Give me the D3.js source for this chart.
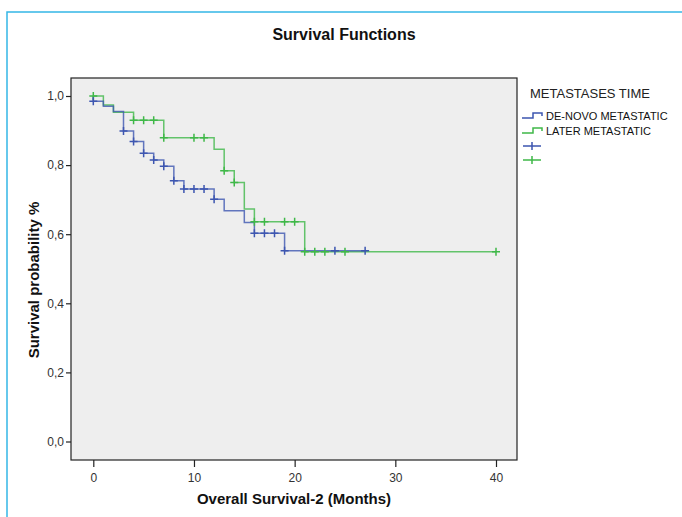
<!DOCTYPE html>
<html>
<head>
<meta charset="utf-8">
<script src="https://cdn.jsdelivr.net/npm/d3@7"></script>
<style>
  body { margin: 0; background: #fff; }
  svg text { font-family: "Liberation Sans", Arial, sans-serif; }
</style>
</head>
<body>
<div id="chart"></div>
<script>
// step times (months) and survival after each event
var deNovoTimes = [0, 1, 2, 3, 4, 5, 6, 7, 8, 9, 12, 13, 15, 16, 19];
var deNovoSurv = [0.985, 0.970, 0.955, 0.899, 0.868, 0.834, 0.815, 0.797, 0.755, 0.731, 0.701, 0.668, 0.634, 0.603, 0.552];
var deNovoCensored = [0, 3, 4, 5, 6, 7, 8, 9, 10, 11, 12, 16, 17, 18, 19, 24, 27];
var deNovoEnd = 27;

var laterTimes = [1, 2, 4, 7, 12, 13, 14, 15, 16, 21];
var laterSurv = [0.974, 0.953, 0.930, 0.879, 0.846, 0.784, 0.750, 0.673, 0.636, 0.549];
var laterCensored = [0, 4, 5, 6, 7, 10, 11, 13, 14, 16, 17, 19, 20, 21, 22, 23, 25, 40];
var laterEnd = 40;

var groupNames = ["DE-NOVO METASTATIC", "LATER METASTATIC"];
var xTicks = [0, 10, 20, 30, 40];
var yTicks = [0, 0.2, 0.4, 0.6, 0.8, 1.0];

var width = 682, height = 517;
var box = {left: 71, right: 517, top: 78, bottom: 460};
var blue = "#3d56b0", green = "#3fb848";

var svg = d3.select("#chart").append("svg")
    .attr("width", width)
    .attr("height", height);

// outer light blue frame
svg.append("rect")
    .attr("x", 7).attr("y", 12)
    .attr("width", 720).attr("height", 560)
    .attr("fill", "none")
    .attr("stroke", "#35b6e6")
    .attr("stroke-width", 1.5);

svg.append("text")
    .attr("x", 344).attr("y", 40)
    .attr("text-anchor", "middle")
    .attr("font-size", "16px")
    .attr("font-weight", "bold")
    .attr("fill", "#111")
    .text("Survival Functions");

// plot area
svg.append("rect")
    .attr("x", box.left).attr("y", box.top)
    .attr("width", box.right - box.left)
    .attr("height", box.bottom - box.top)
    .attr("fill", "#eeeeee")
    .attr("stroke", "#222")
    .attr("stroke-width", 1.2);

var x = d3.scaleLinear().domain([0, 40]).range([93.3, 496]);
var y = d3.scaleLinear().domain([0, 1]).range([441.5, 96]);

var fmt = function(d) { return d3.format(".1f")(d).replace(".", ","); };

var xAxis = svg.append("g")
    .attr("transform", "translate(0," + box.bottom + ")")
    .call(d3.axisBottom(x).tickValues(xTicks).tickSize(7).tickPadding(6));
var yAxis = svg.append("g")
    .attr("transform", "translate(" + box.left + ",0)")
    .call(d3.axisLeft(y).tickValues(yTicks).tickFormat(fmt).tickSize(5).tickPadding(2));

[xAxis, yAxis].forEach(function(g) {
  g.select(".domain").remove();
  g.selectAll(".tick line").attr("stroke", "#222").attr("stroke-width", 1.2);
  g.selectAll(".tick text")
    .attr("fill", "#333")
    .attr("font-size", "12px")
    .attr("font-family", "Liberation Sans, Arial, sans-serif");
});

svg.append("text")
    .attr("x", 294).attr("y", 504)
    .attr("text-anchor", "middle")
    .attr("font-size", "15px")
    .attr("font-weight", "bold")
    .attr("fill", "#111")
    .text("Overall Survival-2 (Months)");

svg.append("text")
    .attr("transform", "translate(39,280) rotate(-90)")
    .attr("text-anchor", "middle")
    .attr("font-size", "15px")
    .attr("font-weight", "bold")
    .attr("fill", "#111")
    .text("Survival probability %");

// survival at time t (value right after any event at t)
function survAt(times, surv, t) {
  var s = 1;
  for (var i = 0; i < times.length; i++) {
    if (times[i] <= t) s = surv[i];
  }
  return s;
}

function stepPoints(times, surv, end) {
  var pts = [[0, 1]];
  for (var i = 0; i < times.length; i++) {
    pts.push([times[i], surv[i]]);
  }
  pts.push([end, surv[surv.length - 1]]);
  return pts;
}

var line = d3.line()
    .x(function(d) { return x(d[0]); })
    .y(function(d) { return y(d[1]); })
    .curve(d3.curveStepAfter);

var groups = [
  {times: laterTimes, surv: laterSurv, cens: laterCensored, end: laterEnd, color: green},
  {times: deNovoTimes, surv: deNovoSurv, cens: deNovoCensored, end: deNovoEnd, color: blue}
];

groups.forEach(function(g) {
  svg.append("path")
      .datum(stepPoints(g.times, g.surv, g.end))
      .attr("d", line)
      .attr("fill", "none")
      .attr("stroke", g.color)
      .attr("stroke-opacity", 0.8)
      .attr("stroke-width", 1.5);
});

groups.forEach(function(g) {
  svg.append("g").selectAll("path")
      .data(g.cens)
      .enter()
      .append("path")
      .attr("d", function(t) {
        var cx = x(t), cy = y(survAt(g.times, g.surv, t));
        return "M" + (cx - 4) + "," + cy + "H" + (cx + 4) +
               "M" + cx + "," + (cy - 4) + "V" + (cy + 4);
      })
      .attr("stroke", g.color)
      .attr("stroke-width", 1.5)
      .attr("fill", "none");
});

// legend
var lg = svg.append("g");
lg.append("text")
    .attr("x", 530).attr("y", 98)
    .attr("font-size", "13px")
    .attr("fill", "#222")
    .text("METASTASES TIME");

[blue, green].forEach(function(c, i) {
  var ly = 118 + i * 15;
  lg.append("path")
      .attr("d", "M522," + ly + "H533V" + (ly - 5) + "H542V" + (ly - 2))
      .attr("stroke", c)
      .attr("stroke-width", 1.5)
      .attr("fill", "none");
  lg.append("text")
      .attr("x", 546).attr("y", ly + 2)
      .attr("font-size", "11px")
      .attr("fill", "#111")
      .text(groupNames[i]);
  var cy = 146 + i * 14;
  lg.append("path")
      .attr("d", "M523," + cy + "H541M532," + (cy - 4) + "V" + (cy + 4))
      .attr("stroke", c)
      .attr("stroke-width", 1.5)
      .attr("fill", "none");
});
</script>
</body>
</html>
